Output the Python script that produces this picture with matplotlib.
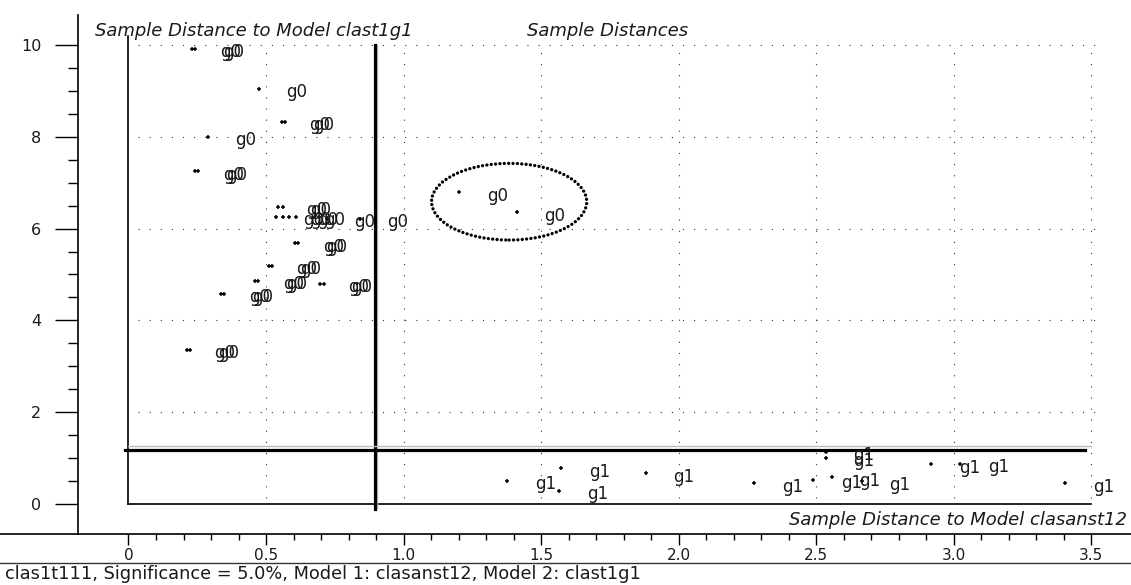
import numpy as np
import matplotlib.pyplot as plt
from matplotlib.lines import Line2D
from matplotlib.patches import Ellipse

plt.rcParams['font.family'] = ['DejaVu Sans']

# class g0 samples (distance to model 1, distance to model 2)
g0_x = [0.232, 0.242, 0.473, 0.557, 0.570, 0.288, 0.243, 0.253,
        0.545, 0.560, 0.535, 0.560, 0.585, 0.610, 0.720, 0.840,
        0.605, 0.618, 0.510, 0.522, 0.460, 0.472, 0.697, 0.710,
        0.337, 0.349, 0.212, 0.224, 1.202, 1.412]
g0_y = [9.91, 9.91, 9.05, 8.32, 8.32, 8.00, 7.25, 7.25,
        6.48, 6.48, 6.25, 6.25, 6.25, 6.25, 6.22, 6.22,
        5.68, 5.68, 5.19, 5.19, 4.86, 4.86, 4.79, 4.79,
        4.58, 4.58, 3.36, 3.36, 6.79, 6.355]

# class g1 samples
g1_x = [1.377, 1.572, 1.567, 1.881, 2.275, 2.490, 2.535, 2.535,
        2.557, 2.666, 2.918, 3.024, 3.405]
g1_y = [0.50, 0.78, 0.28, 0.67, 0.45, 0.52, 1.00, 1.14,
        0.58, 0.49, 0.865, 0.87, 0.45]

crit_x = 0.896   # critical distance, model clasanst12
crit_y = 1.176   # critical distance, model clast1g1

x_major = [0, 0.5, 1.0, 1.5, 2.0, 2.5, 3.0, 3.5]
x_labels = ['0', '0.5', '1.0', '1.5', '2.0', '2.5', '3.0', '3.5']
y_major = [0, 2, 4, 6, 8, 10]

txt = '#1a1a1a'

fig = plt.figure(figsize=(11.31, 5.85), dpi=100)
ax = fig.add_axes([78 / 1131, 51 / 585, 1053 / 1131, 519 / 585])
ax.set_xlim(-0.1836, 3.645)
ax.set_ylim(-0.654, 10.654)

for s in ['top', 'right']:
    ax.spines[s].set_visible(False)
ax.spines['left'].set_linewidth(1.2)
ax.spines['bottom'].set_linewidth(1.2)

ax.set_xticks(x_major)
ax.set_xticklabels(x_labels)
ax.set_xticks(np.arange(0, 3.51, 0.1), minor=True)
ax.set_yticks(y_major)
ax.set_yticks(np.arange(0, 10.01, 0.5), minor=True)
ax.tick_params(axis='x', which='major', length=8, width=1, pad=2,
               labelsize=11, labelcolor=txt)
ax.tick_params(axis='x', which='minor', length=4, width=1)
ax.tick_params(axis='y', which='major', length=16.5, width=1, pad=10,
               labelsize=11.5, labelcolor=txt)
ax.tick_params(axis='y', which='minor', length=7, width=1)

# dotted grid inside the frame
dot = (0, (1, 9))
for gx in x_major[1:]:
    ax.plot([gx, gx], [0.12, 10.0], color='#333333', lw=0.8, ls=dot)
for gy in y_major[1:]:
    ax.plot([0.035, 3.52], [gy, gy], color='#333333', lw=0.8, ls=dot)

# frame lines at the origin
ax.plot([0, 0], [0, 10.2], color='black', lw=1.2)
ax.plot([0, 3.5], [0, 0], color='black', lw=1.2)

# critical limits
ax.plot([crit_x + 0.008, crit_x + 0.008], [-0.08, 10.0], color='#bdbdbd', lw=1.0)
ax.plot([crit_x, crit_x], [-0.11, 10.0], color='black', lw=2.3)
ax.plot([0, 3.5], [crit_y + 0.09, crit_y + 0.09], color='#bdbdbd', lw=1.0)
ax.plot([-0.013, 3.478], [crit_y, crit_y], color='black', lw=2.3)

# samples with class labels
ax.plot(g0_x, g0_y, ls='none', marker='+', ms=3.5, mew=1.1, color='black')
ax.plot(g1_x, g1_y, ls='none', marker='+', ms=3.5, mew=1.1, color='black')
for x, y in zip(g0_x, g0_y):
    ax.annotate('g0', (x, y), xytext=(20, -6), textcoords='offset points',
                fontsize=12, color=txt, va='baseline', ha='left',
                annotation_clip=False)
for x, y in zip(g1_x, g1_y):
    ax.annotate('g1', (x, y), xytext=(20, -6), textcoords='offset points',
                fontsize=12, color=txt, va='baseline', ha='left',
                annotation_clip=False)

# highlighted pair
ax.add_patch(Ellipse((1.384, 6.586), 0.564, 1.67, fill=False,
                     edgecolor='black', lw=2.4, ls=(0, (0.01, 1.3)),
                     capstyle='round'))

# titles
fig.text(95 / 1131, 1 - 36 / 585, 'Sample Distance to Model clast1g1',
         fontsize=13, style='italic', color=txt, va='baseline', ha='left')
fig.text(527 / 1131, 1 - 36 / 585, 'Sample Distances',
         fontsize=13, style='italic', color=txt, va='baseline', ha='left')
fig.text(1127 / 1131, 1 - 525 / 585, 'Sample Distance to Model clasanst12',
         fontsize=13, style='italic', color=txt, va='baseline', ha='right')

# x axis line across the full width and footer separator
fig.add_artist(Line2D([0, 78 / 1131], [51 / 585, 51 / 585], color='black',
                      lw=1.2, transform=fig.transFigure))
fig.add_artist(Line2D([0, 1], [1 - 563 / 585, 1 - 563 / 585], color='#333333',
                      lw=1.0, transform=fig.transFigure))
fig.text(5 / 1131, 1 - 579 / 585,
         'clas1t111, Significance = 5.0%, Model 1: clasanst12, Model 2: clast1g1',
         fontsize=12.8, color=txt, va='baseline', ha='left')

fig.savefig('out.png', dpi=100)
